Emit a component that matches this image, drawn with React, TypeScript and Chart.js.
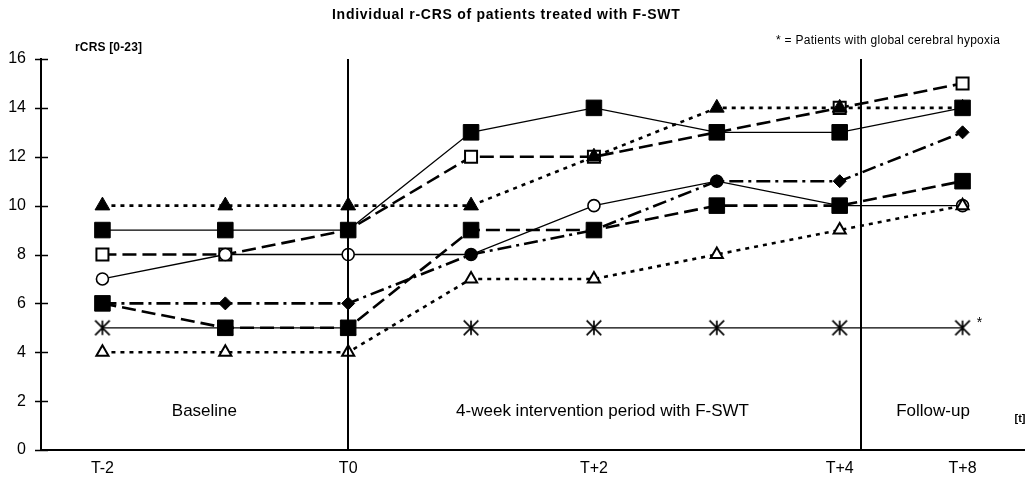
import React, { useEffect, useRef } from "react";
import { Chart, registerables } from "chart.js";

Chart.register(...registerables);

// ---- data ----
const categories = ["T-2", "", "T0", "", "T+2", "", "T+4", "T+8"];
const filledSquareSolid = [9, 9, 9, 13, 14, 13, 13, 14];
const filledSquareDashed = [6, 5, 5, 9, 9, 10, 10, 11];
const filledTriangle = [10, 10, 10, 10, 12, 14, 14, 14];
const openSquare = [8, 8, 9, 12, 12, 13, 14, 15];
const openCircle = [7, 8, 8, 8, 10, 11, 10, 10];
const diamond = [6, 6, 6, 8, 9, 11, 11, 13];
const asteriskSeries = [5, 5, 5, 5, 5, 5, 5, 5];
const openTriangle = [4, 4, 4, 7, 7, 8, 9, 10];
const yTickValues = [0, 2, 4, 6, 8, 10, 12, 14, 16];

const chartTitle = "Individual r-CRS of patients treated with F-SWT";
const yAxisTitle = "rCRS [0-23]";
const footnote = "* = Patients with global cerebral hypoxia";
const xUnit = "[t]";
// phase separators (category index units)
const phaseSeparators = [2, 6.17];
// phase labels: text with position in data units
const phaseLabels = [
  { text: "Baseline", x: 0.83, y: 1.6 },
  { text: "4-week intervention period with F-SWT", x: 4.07, y: 1.6 },
  { text: "Follow-up", x: 6.76, y: 1.6 },
];

const FONT = "'Liberation Sans', Arial, Helvetica, sans-serif";

function makeAsterisk(): HTMLCanvasElement {
  const c = document.createElement("canvas");
  c.width = 18;
  c.height = 18;
  const ctx = c.getContext("2d")!;
  ctx.strokeStyle = "#000";
  ctx.lineWidth = 1.7;
  const cx = 9,
    cy = 9,
    r = 7.3;
  ctx.beginPath();
  ctx.moveTo(cx, cy - r);
  ctx.lineTo(cx, cy + r);
  ctx.moveTo(cx - r, cy - r);
  ctx.lineTo(cx + r, cy + r);
  ctx.moveTo(cx + r, cy - r);
  ctx.lineTo(cx - r, cy + r);
  ctx.stroke();
  return c;
}

// draw text left-aligned from x, stretched by letter spacing to a target width
function fitText(ctx: any, text: string, x: number, y: number, target: number) {
  ctx.letterSpacing = "0px";
  const w = ctx.measureText(text).width;
  const ls = (target - w) / Math.max(1, text.length - 1);
  ctx.letterSpacing = `${ls.toFixed(2)}px`;
  ctx.textAlign = "left";
  ctx.fillText(text, x, y);
  ctx.letterSpacing = "0px";
}

const decorPlugin = {
  id: "decor",
  afterDraw(chart: any) {
    const ctx = chart.ctx as CanvasRenderingContext2D;
    const { chartArea } = chart;
    const xs = chart.scales.x;
    const ys = chart.scales.y;
    ctx.save();
    ctx.strokeStyle = "#000";
    ctx.fillStyle = "#000";
    // y ticks crossing axis
    ctx.lineWidth = 1.5;
    yTickValues.forEach((v) => {
      const y = Math.round(ys.getPixelForValue(v)) + 0.5;
      ctx.beginPath();
      ctx.moveTo(chartArea.left - 6, y);
      ctx.lineTo(chartArea.left + 7, y);
      ctx.stroke();
    });
    // separators
    ctx.lineWidth = 2;
    phaseSeparators.forEach((p) => {
      const x = Math.round(xs.getPixelForValue(p));
      ctx.beginPath();
      ctx.moveTo(x, chartArea.top);
      ctx.lineTo(x, chartArea.bottom);
      ctx.stroke();
    });
    // texts
    ctx.textBaseline = "middle";
    ctx.font = `bold 14px ${FONT}`;
    fitText(ctx, chartTitle, 332, 15, 348);
    ctx.font = `bold 12px ${FONT}`;
    fitText(ctx, yAxisTitle, 75, 48, 67);
    ctx.font = `12px ${FONT}`;
    fitText(ctx, footnote, 776, 41, 224);
    ctx.font = `17px ${FONT}`;
    ctx.textAlign = "center";
    phaseLabels.forEach((l) => {
      ctx.fillText(l.text, xs.getPixelForValue(l.x), ys.getPixelForValue(l.y));
    });
    ctx.font = `bold 11px ${FONT}`;
    ctx.textAlign = "center";
    ctx.fillText(xUnit, 1020, 419);
    // asterisk annotation next to last asterisk point
    const last = asteriskSeries.length - 1;
    ctx.font = `14px ${FONT}`;
    ctx.fillText(
      "*",
      xs.getPixelForValue(last) + 17,
      ys.getPixelForValue(asteriskSeries[last]) - 5
    );
    ctx.restore();
  },
};

export default function App() {
  const ref = useRef<HTMLCanvasElement | null>(null);
  useEffect(() => {
    if (!ref.current) return;
    const star = makeAsterisk();
    const black = "#000";
    const white = "#fff";
    const base = { borderColor: black, tension: 0, fill: false, pointBorderColor: black, pointHoverRadius: 0 };
    const chart = new Chart(ref.current, {
      type: "line",
      data: {
        labels: categories,
        datasets: [
          {
            ...base,
            label: "A",
            data: filledSquareSolid,
            borderWidth: 1.3,
            pointStyle: "rect",
            pointRadius: 11,
            pointBackgroundColor: black,
            pointBorderWidth: 1,
          },
          {
            ...base,
            label: "B",
            data: filledSquareDashed,
            borderWidth: 2.6,
            borderDash: [14, 6],
            pointStyle: "rect",
            pointRadius: 11,
            pointBackgroundColor: black,
            pointBorderWidth: 1,
          },
          {
            ...base,
            label: "C",
            data: filledTriangle,
            borderWidth: 2.6,
            borderDash: [4, 5],
            pointStyle: "triangle",
            pointRadius: 8.5,
            pointBackgroundColor: black,
            pointBorderWidth: 1,
          },
          {
            ...base,
            label: "H",
            data: openTriangle,
            borderWidth: 2.6,
            borderDash: [4, 5],
            pointStyle: "triangle",
            pointRadius: 7,
            pointBackgroundColor: white,
            pointBorderWidth: 2,
          },
          {
            ...base,
            label: "E",
            data: openCircle,
            borderWidth: 1.3,
            pointStyle: "circle",
            pointRadius: 6,
            pointBackgroundColor: [white, white, white, black, white, black, white, white],
            pointBorderWidth: 1.6,
          },
          {
            ...base,
            label: "D",
            data: openSquare,
            borderWidth: 2.6,
            borderDash: [14, 6],
            pointStyle: "rect",
            pointRadius: 8.5,
            pointBackgroundColor: white,
            pointBorderWidth: 2,
          },
          {
            ...base,
            label: "F",
            data: diamond,
            borderWidth: 2.6,
            borderDash: [14, 5, 3, 5],
            pointStyle: "rectRot",
            pointRadius: 6.5,
            pointBackgroundColor: black,
            pointBorderWidth: 1,
          },
          {
            ...base,
            label: "G",
            data: asteriskSeries,
            borderWidth: 1.3,
            pointStyle: star as any,
            pointRadius: 8,
          },
        ],
      },
      options: {
        animation: false,
        responsive: false,
        devicePixelRatio: 1,
        layout: { padding: { top: 59, right: 7, left: 0, bottom: 0 } },
        plugins: {
          legend: { display: false },
          title: { display: false },
          tooltip: { enabled: false },
        },
        events: [],
        scales: {
          x: {
            type: "category",
            offset: true,
            grid: { display: false, drawTicks: false },
            border: { display: true, color: black, width: 2 },
            ticks: {
              color: black,
              font: { family: FONT, size: 16 },
              padding: 9,
              autoSkip: false,
              maxRotation: 0,
            },
            afterFit: (s: any) => {
              s.height = 36;
            },
          },
          y: {
            min: 0,
            max: 16,
            grid: { display: false, drawTicks: false },
            border: { display: true, color: black, width: 2 },
            ticks: {
              stepSize: 2,
              color: black,
              font: { family: FONT, size: 16 },
              padding: 15,
            },
            afterFit: (s: any) => {
              s.width = 41;
            },
          },
        },
      },
      plugins: [decorPlugin],
    });
    return () => chart.destroy();
  }, []);
  return (
    <div style={{ position: "absolute", left: 0, top: 0, width: 1036, height: 486, background: "#fff" }}>
      <canvas ref={ref} width={1036} height={486} style={{ display: "block" }} />
    </div>
  );
}
